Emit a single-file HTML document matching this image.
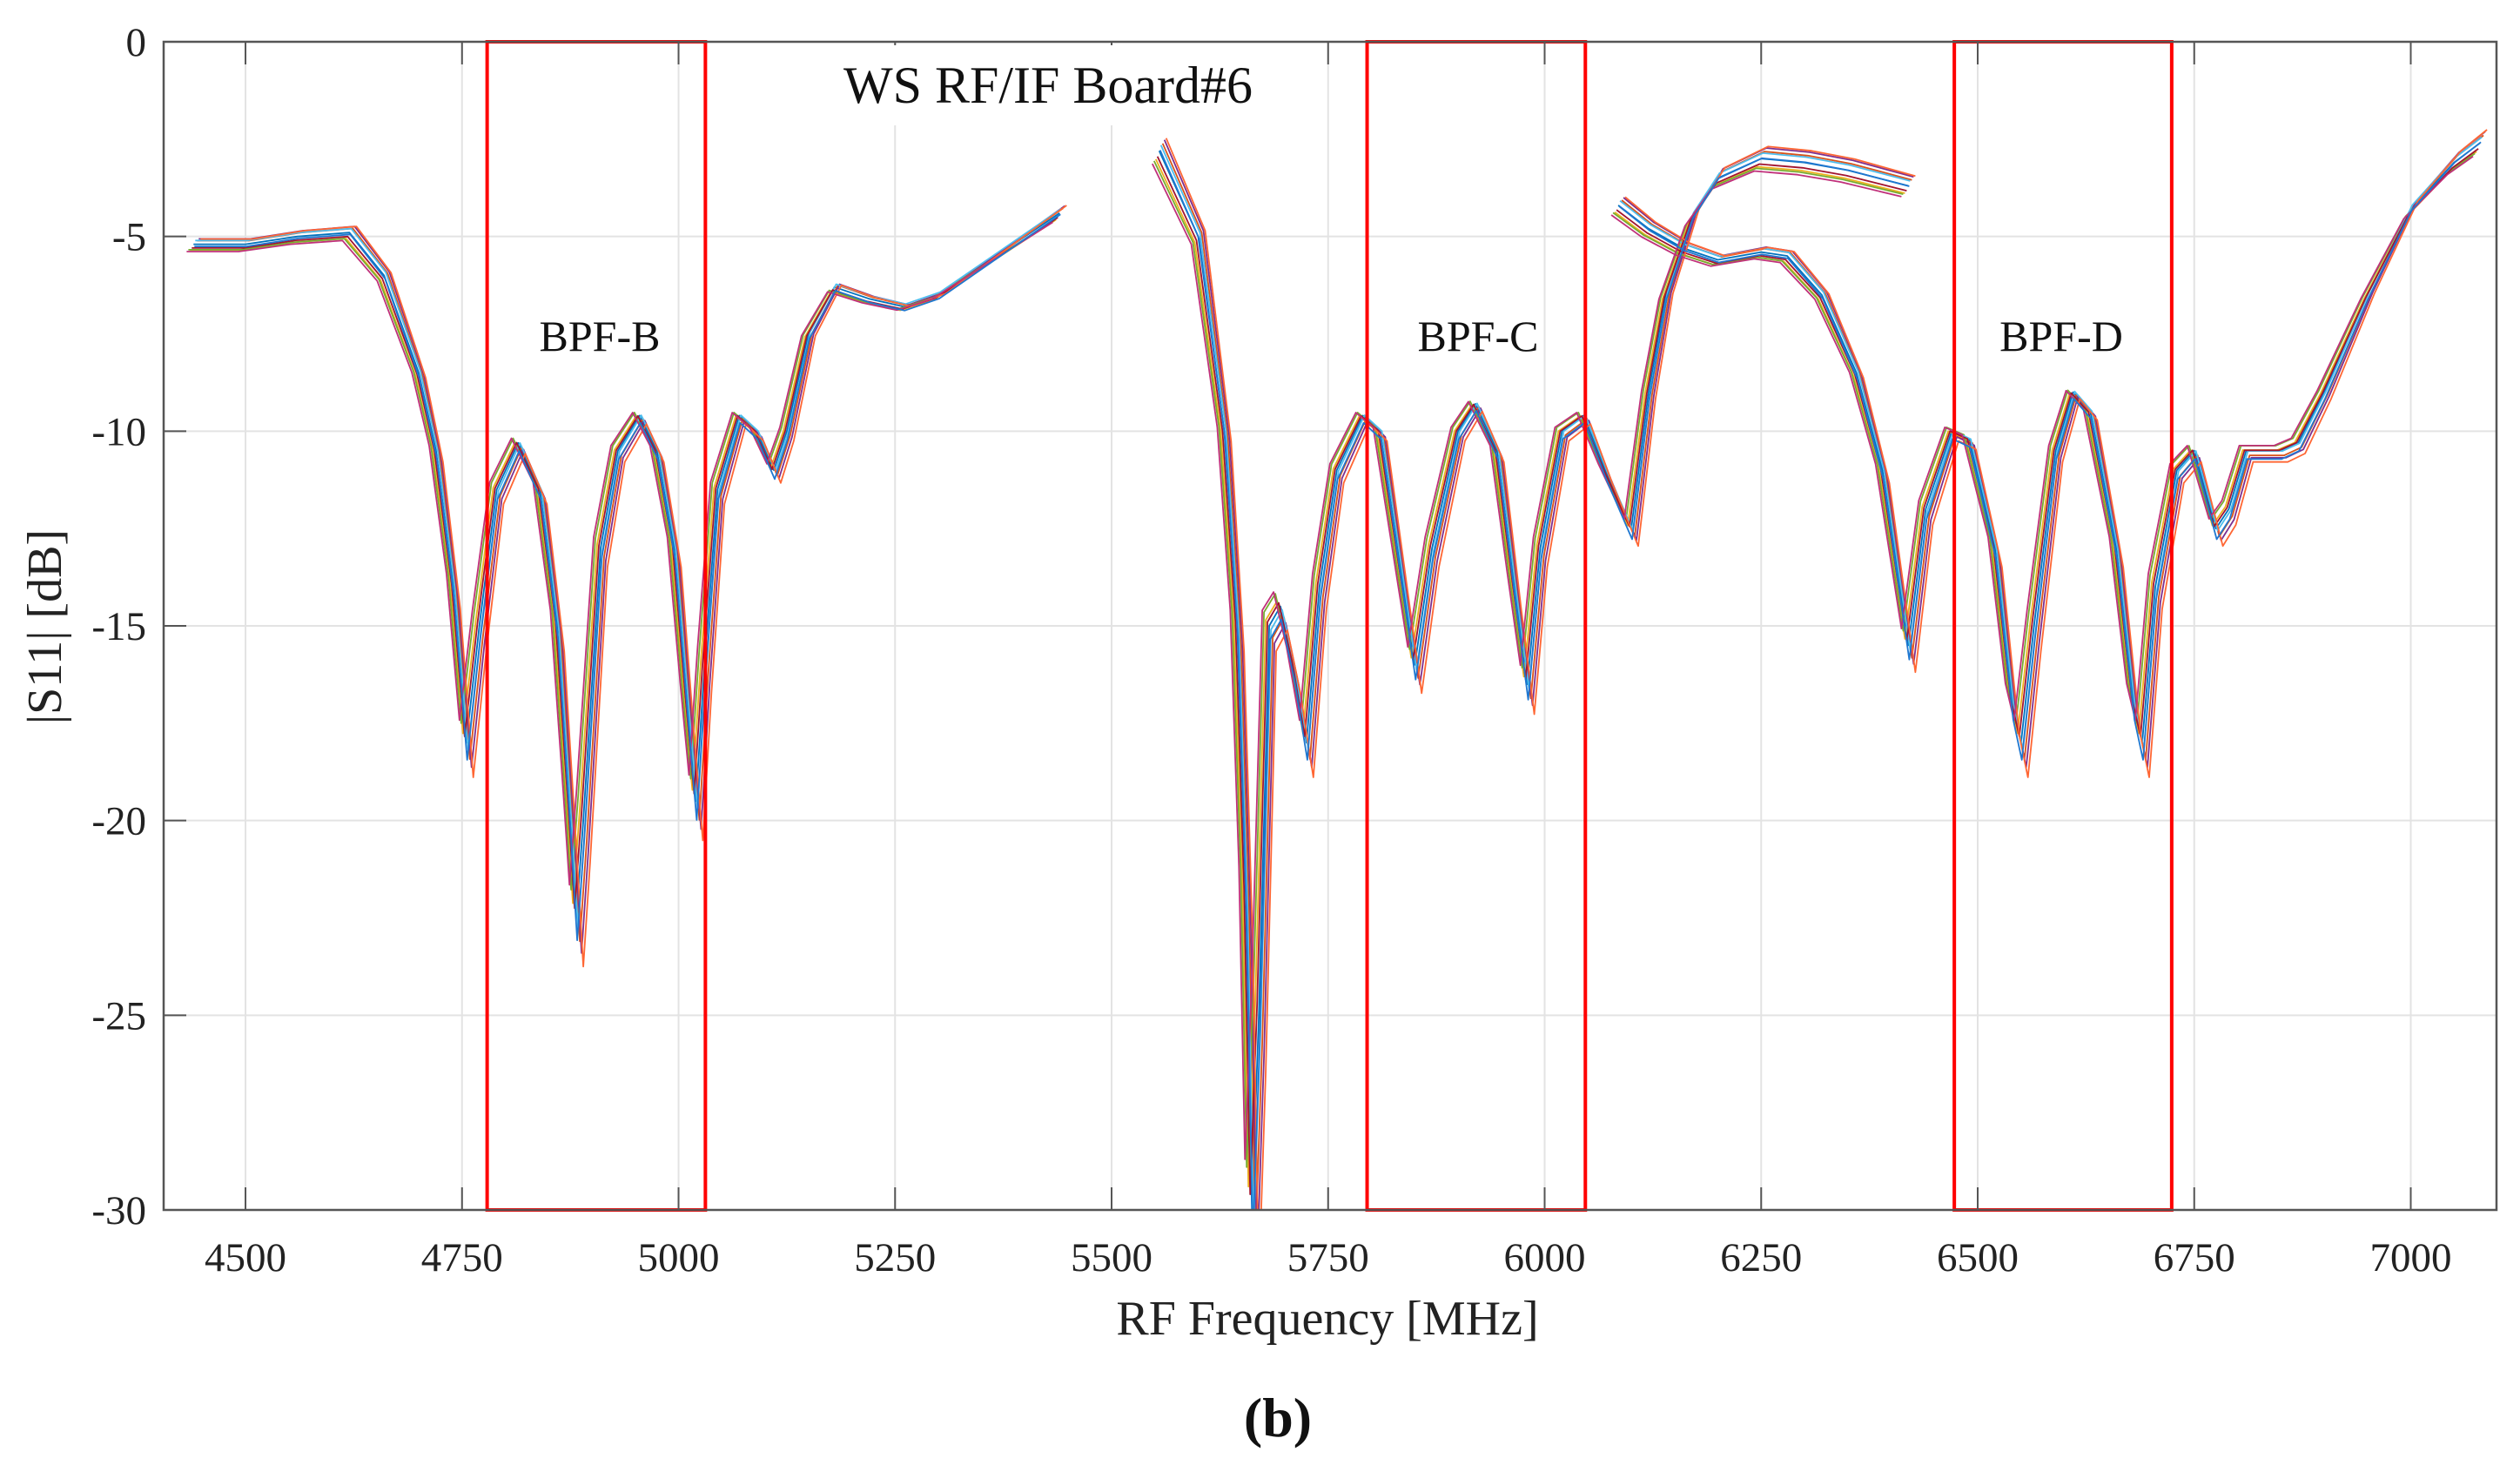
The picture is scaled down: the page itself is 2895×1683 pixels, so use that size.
<!DOCTYPE html>
<html><head><meta charset="utf-8">
<style>
html,body{margin:0;padding:0;background:#fff;}
svg{display:block;font-family:"Liberation Serif",serif;}
</style></head>
<body>
<svg id="chart" width="2895" height="1683" viewBox="0 0 2895 1683">
<defs><clipPath id="pc"><rect x="188" y="48" width="2680" height="1342"/></clipPath></defs>
<rect x="188" y="48" width="2680" height="1342" fill="#fff"/>
<g id="grid"></g>
<g id="series" clip-path="url(#pc)"></g>
<g id="boxes"></g>
<rect x="188" y="48" width="2680" height="1342" fill="none" stroke="#555" stroke-width="2.5"/>
<g id="ticks"></g>
<rect x="905" y="52" width="600" height="92" fill="#fff"/>
<text x="1204" y="118" font-size="60" text-anchor="middle" fill="#111">WS RF/IF Board#6</text>
<text x="689" y="403" font-size="50" text-anchor="middle" fill="#111">BPF-B</text>
<text x="1698" y="403" font-size="50" text-anchor="middle" fill="#111">BPF-C</text>
<text x="2368" y="403" font-size="50" text-anchor="middle" fill="#111">BPF-D</text>
<text x="1525" y="1533" font-size="56" text-anchor="middle" fill="#222">RF Frequency [MHz]</text>
<text transform="translate(70,720) rotate(-90)" font-size="56" text-anchor="middle" fill="#222">|S11| [dB]</text>
<text x="1468" y="1650" font-size="64" font-weight="bold" text-anchor="middle" fill="#111">(b)</text>
</svg>
<script>
const xTicks = [4500,4750,5000,5250,5500,5750,6000,6250,6500,6750,7000];
const yTicks = [0,-5,-10,-15,-20,-25,-30];
const bandStart = [4779,5795,6473];
const bandEnd = [5031,6047,6724];
const seg1F = [4440,4500,4560,4620,4660,4700,4720,4740,4755,4770,4790,4815,4840,4860,4875,4882,4890,4910,4930,4955,4975,4995,5010,5020,5030,5045,5070,5090,5110,5125,5150,5180,5220,5260,5300,5360,5440];
const seg1V = [-5.2,-5.2,-5.0,-4.9,-6,-8.5,-10.5,-14,-18,-15,-11.5,-10.3,-11.5,-15,-20,-22.5,-20,-13,-10.5,-9.6,-10.5,-13,-17,-19.5,-16,-11.5,-9.6,-10,-11,-10,-7.5,-6.3,-6.6,-6.8,-6.5,-5.6,-4.4];
const seg2F = [5555,5600,5630,5645,5655,5662,5670,5682,5695,5710,5725,5740,5760,5790,5810,5830,5850,5870,5900,5920,5945,5965,5980,5995,6020,6045,6070,6100,6120,6140,6170,6200,6250,6300,6350,6420];
const seg2V = [-2.8,-5,-10,-15,-22,-30,-25,-15,-14.5,-16,-18,-14,-11,-9.6,-10,-13,-16,-13,-10,-9.3,-10.5,-14,-16.5,-13,-10,-9.6,-11,-12.5,-9,-6.5,-4.5,-3.5,-3.0,-3.1,-3.3,-3.7];
const seg3F = [6085,6120,6160,6200,6250,6280,6320,6360,6390,6410,6420,6440,6470,6490,6520,6540,6550,6565,6590,6610,6630,6660,6680,6690,6705,6730,6750,6775,6790,6810,6850,6870,6900,6950,7000,7050,7080];
const seg3V = [-4.2,-4.8,-5.3,-5.6,-5.4,-5.5,-6.5,-8.5,-11,-14,-15.5,-12,-10,-10.2,-13,-17,-18,-15,-10.5,-9,-9.5,-13,-17,-18,-14,-11,-10.5,-12.5,-12,-10.5,-10.5,-10.3,-9,-6.5,-4.3,-3.1,-2.6];
const traceOffset = [0,0.3,-0.3,0.45,-0.4,0.2,-0.2,0.55,-0.5,0.1];
const traceShift = [0,4,-4,6,-6,2,-2,8,-8,1];
const traceDepth = [0,0.04,-0.03,0.06,-0.05,0.02,-0.02,0.08,-0.06,0.03];
const colors = ["#0072BD","#D95319","#EDB120","#7E2F8E","#77AC30","#4DBEEE","#A2142F","#FF6633","#C0307A","#1F77D0"];

const NS="http://www.w3.org/2000/svg";
const X0=188,X1=2868,F0=4405.5,F1=7099,Y0=48,Y1=1390;
const xs=f=>X0+(f-F0)*(X1-X0)/(F1-F0);
const ys=v=>Y0+(0-v)*(Y1-Y0)/30;
function mk(tag,attrs,parent){const e=document.createElementNS(NS,tag);for(const k in attrs)e.setAttribute(k,attrs[k]);parent.appendChild(e);return e;}
const grid=document.getElementById('grid'),ticks=document.getElementById('ticks');
xTicks.forEach(t=>{
  const g=mk('line',{x1:xs(t),x2:xs(t),y1:Y0,y2:Y1,stroke:'#e3e3e3','stroke-width':2},grid);
  
  
  const tk=mk('line',{x1:xs(t),x2:xs(t),y1:Y1,y2:Y1-26,stroke:'#555','stroke-width':2},ticks);
  
  
  const tk2=mk('line',{x1:xs(t),x2:xs(t),y1:Y0,y2:Y0+26,stroke:'#555','stroke-width':2},ticks);
  
  
  const tl=mk('text',{x:xs(t),y:1460,'font-size':47,'text-anchor':'middle',fill:'#222'},ticks);
  tl.textContent=t;
  
  
});
yTicks.forEach(t=>{
  const g=mk('line',{x1:X0,x2:X1,y1:ys(t),y2:ys(t),stroke:'#e3e3e3','stroke-width':2},grid);
  
  
  const tk=mk('line',{x1:X0,x2:X0+26,y1:ys(t),y2:ys(t),stroke:'#555','stroke-width':2},ticks);
  
  
  const tl=mk('text',{x:168,y:ys(t)+16,'font-size':47,'text-anchor':'end',fill:'#222'},ticks);
  tl.textContent=t;
  
  
});
const boxes=document.getElementById('boxes');
bandStart.forEach((s,i)=>{
  const r=mk('rect',{x:xs(s),y:Y0,width:xs(bandEnd[i])-xs(s),height:Y1-Y0,fill:'none',stroke:'#ff0000','stroke-width':4},boxes);
  
  
});
const series=document.getElementById('series');
const segs=[[seg1F,seg1V],[seg2F,seg2V],[seg3F,seg3V]];
colors.forEach((c,i)=>{
  segs.forEach(([F,V])=>{
    const pts=F.map((f,j)=>{const v=V[j]*(1+traceDepth[i])+traceOffset[i];return xs(f+traceShift[i]).toFixed(1)+','+ys(v).toFixed(1);}).join(' ');
    const p=mk('polyline',{points:pts,fill:'none',stroke:c,'stroke-width':1.8,'stroke-linejoin':'round'},series);
    
    
  });
});
</script>
</body></html>
